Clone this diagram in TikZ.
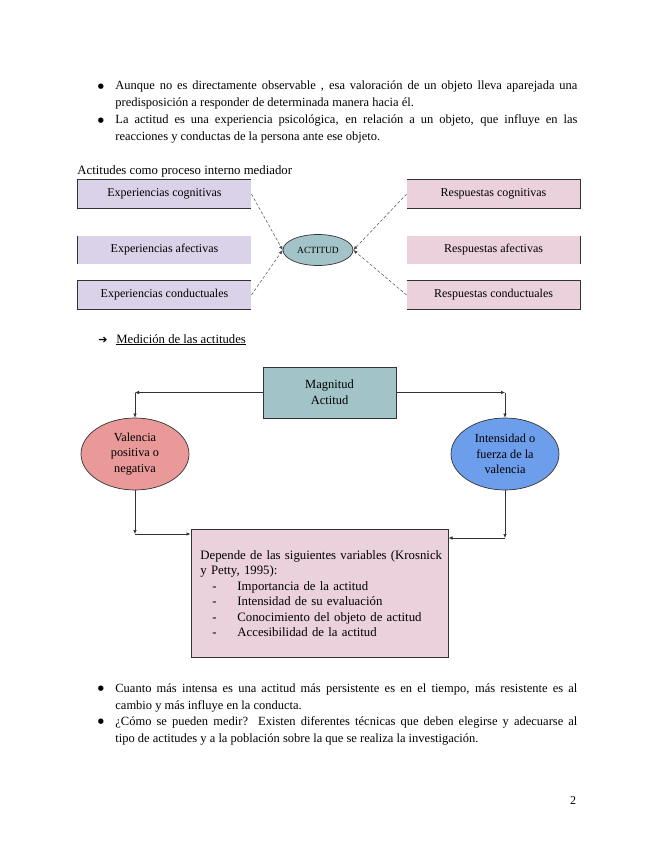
\documentclass[tikz,border=0pt]{standalone}
\usepackage{fontspec}
\setmainfont{Liberation Serif}
\newfontfamily\symfont{DejaVu Sans}
\usetikzlibrary{arrows.meta,shapes.geometric}

\definecolor{lila}{HTML}{D9D2E9}
\definecolor{rosa}{HTML}{EAD1DC}
\definecolor{verdeazul}{HTML}{A2C4C9}
\definecolor{salmon}{HTML}{EA9999}
\definecolor{azul}{HTML}{6D9EEB}
\definecolor{borde}{HTML}{333333}

\begin{document}
\begin{tikzpicture}[x=1pt,y=-1pt,line width=0.8pt,>={Latex[length=4pt,width=3.5pt]},
  parrafo/.style={anchor=base west,inner sep=0pt,text width=462pt,align=justify,
    font=\fontsize{12.5}{17}\selectfont},
  punto/.style={anchor=base,inner sep=0pt,font=\symfont\fontsize{7}{17}\selectfont},
  caja/.style={minimum width=173pt,minimum height=28pt,inner sep=0pt,
    font=\fontsize{12}{14}\selectfont},
  ovalo/.style={ellipse,draw=borde,line width=0.7pt,minimum width=108pt,minimum height=72pt,
    inner sep=0pt,align=center,font=\fontsize{12.3}{15.5}\selectfont},
  flecha/.style={->,black!80,line width=0.6pt}]
  \useasboundingbox (0,0) rectangle (655,848);
  % parrafos de arriba
  \node[punto] (b1) at (101,88.5) {●};
  \node[parrafo] (p1) at (115,90) {Aunque no es directamente observable , esa valoración de un objeto lleva aparejada una\linebreak predisposición a responder de determinada manera hacia él.};
  \node[punto] (b2) at (101,122.5) {●};
  \node[parrafo] (p2) at (115,124) {La actitud es una experiencia psicológica, en relación a un objeto, que influye en las\linebreak reacciones y conductas de la persona ante ese objeto.};
  % actitud como mediador
  \node[anchor=base west,inner sep=0pt,font=\fontsize{12.8}{14}\selectfont] (titulo) at (77,174) {Actitudes como proceso interno mediador};
  \node[caja,fill=lila] (ec) at (164.5,194) {Experiencias cognitivas};
  \node[caja,fill=lila] (ea) at (164.5,250) {Experiencias afectivas};
  \node[caja,fill=lila] (ecd) at (164.5,295) {Experiencias conductuales};
  \node[caja,fill=rosa] (rc) at (493.5,194) {Respuestas cognitivas};
  \node[caja,fill=rosa] (ra) at (493.5,250) {Respuestas afectivas};
  \node[caja,fill=rosa] (rcd) at (493.5,295) {Respuestas conductuales};
  \draw[borde,line width=1pt] (ec.north east) -- (ec.north west) -- (ec.south west) -- (ec.south east);
  \draw[borde,line width=1pt] (ea.north west) -- (ea.south west);
  \draw[borde,line width=1pt] (ecd.north east) -- (ecd.north west) -- (ecd.south west) -- (ecd.south east);
  \draw[borde,line width=1pt] (rc.north west) -- (rc.north east) -- (rc.south east) -- (rc.south west);
  \draw[borde,line width=1pt] (ra.north east) -- (ra.south east);
  \draw[borde,line width=1pt] (rcd.north west) -- (rcd.north east) -- (rcd.south east) -- (rcd.south west);
  \node[ellipse,draw=borde,fill=verdeazul,line width=0.7pt,minimum width=70pt,minimum height=31pt,
    inner sep=0pt,font=\fontsize{9.5}{11}\selectfont] (act) at (318,250) {ACTITUD};
  \draw[->,densely dashed,black!70,line width=0.5pt] (ec.east) -- (act.west);
  \draw[->,densely dashed,black!70,line width=0.5pt] (ecd.east) -- (act.west);
  \draw[->,densely dashed,black!70,line width=0.5pt] (rc.west) -- (act.east);
  \draw[->,densely dashed,black!70,line width=0.5pt] (rcd.west) -- (act.east);
  % medicion
  \node[anchor=base west,inner sep=0pt,font=\symfont\fontsize{11}{13}\selectfont] (flechita) at (98,343) {➔};
  \node[anchor=base west,inner sep=0pt,font=\fontsize{12.7}{14}\selectfont] (medicion) at (116,343) {\underline{Medición de las actitudes}};
  \node[draw=borde,fill=verdeazul,line width=1pt,minimum width=133pt,minimum height=51pt,
    inner sep=0pt,align=center,font=\fontsize{12.5}{16}\selectfont] (mag) at (329.5,392.5) {Magnitud\\Actitud};
  \node[ovalo,fill=salmon] (val) at (135,454) {Valencia\\positiva o\\negativa};
  \node[ovalo,fill=azul] (int) at (505,454) {Intensidad o\\fuerza de la\\valencia};
  \coordinate (ai) at (val.north |- mag.west);
  \coordinate (ad) at (int.north |- mag.east);
  \draw[flecha] (mag.west) -- (ai);
  \draw[flecha] (ai) -- (val.north);
  \draw[flecha] (mag.east) -- (ad);
  \draw[flecha] (ad) -- (int.north);
  \node[draw=borde,fill=rosa,line width=1pt,minimum width=257pt,minimum height=128pt,inner sep=0pt] (dep) at (319.5,593) {};
  \node[anchor=base west,inner sep=0pt,align=left,text width=245pt,font=\fontsize{12.8}{15.5}\selectfont] (lista) at (200,559)
    {Depende de las siguientes variables (Krosnick\\
     y Petty, 1995):\\
     \hspace*{12pt}\makebox[25pt][l]{-}Importancia de la actitud\\
     \hspace*{12pt}\makebox[25pt][l]{-}Intensidad de su evaluación\\
     \hspace*{12pt}\makebox[25pt][l]{-}Conocimiento del objeto de actitud\\
     \hspace*{12pt}\makebox[25pt][l]{-}Accesibilidad de la actitud};
  \coordinate (bi) at (val.south |- 0,534);
  \coordinate (bd) at (int.south |- 0,538);
  \draw[flecha] (val.south) -- (bi);
  \draw[flecha] (bi) -- (dep.west |- bi);
  \draw[flecha] (int.south) -- (bd);
  \draw[flecha] (bd) -- (dep.east |- bd);
  % parrafos de abajo
  \node[punto] (b3) at (101,690.5) {●};
  \node[parrafo] (p3) at (115,692) {Cuanto más intensa es una actitud más persistente es en el tiempo, más resistente es al\linebreak cambio y más influye en la conducta.};
  \node[punto] (b4) at (101,723.5) {●};
  \node[parrafo] (p4) at (115,725) {¿Cómo se pueden medir? Existen diferentes técnicas que deben elegirse y adecuarse al\linebreak tipo de actitudes y a la población sobre la que se realiza la investigación.};
  \node[anchor=base,inner sep=0pt,font=\fontsize{12}{13}\selectfont] (pag) at (573,804) {2};
\end{tikzpicture}
\end{document}
